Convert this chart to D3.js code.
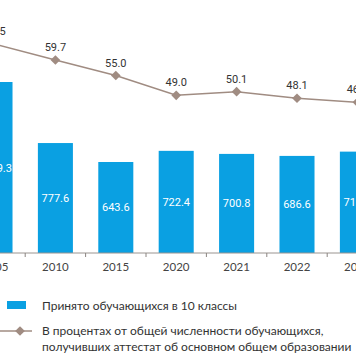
<!DOCTYPE html>
<html><head><meta charset="utf-8">
<script src="https://cdn.jsdelivr.net/npm/d3@7"></script>
<style>html,body{margin:0;padding:0;background:#fff;}svg{display:block;}</style>
</head><body>
<script>
const years = ["2005","2010","2015","2020","2021","2022","2023"];
const admitted = [1209.3, 777.6, 643.6, 722.4, 700.8, 686.6, 716.9];
const percent = [64.5, 59.7, 55.0, 49.0, 50.1, 48.1, 46.9];
const legendLabels = ["Принято обучающихся в 10 классы",
  "В процентах от общей численности обучающихся,",
  "получивших аттестат об основном общем образовании"];

const W = 356, H = 364;
const svg = d3.select("body").append("svg").attr("width", W).attr("height", H);
const font = "Lato, 'Open Sans', sans-serif";
const blue = "#0aa0e2", lineCol = "#a08c82";

const x = d3.scaleBand().domain(years).range([-35.2, 387.6]).paddingInner(0.42).paddingOuter(0.21);
const yBar = d3.scaleLinear().domain([0, 1300]).range([253, 253 - 1300 * 0.1414]);
const yLine = d3.scaleLinear().domain([40, 70]).range([125, 26]);

// bars
svg.selectAll("rect.bar").data(years).join("rect").attr("class", "bar")
  .attr("x", d => x(d)).attr("width", x.bandwidth())
  .attr("y", (d, i) => yBar(admitted[i])).attr("height", (d, i) => yBar(0) - yBar(admitted[i]))
  .attr("fill", blue);
svg.selectAll("text.bl").data(years).join("text").attr("class", "bl")
  .attr("x", d => x(d) + x.bandwidth() / 2)
  .attr("y", (d, i) => (yBar(admitted[i]) + yBar(0)) / 2 + 4)
  .attr("text-anchor", "middle").attr("fill", "#fff").attr("font-family", "Roboto, sans-serif")
  .attr("font-size", 11).text((d, i) => admitted[i].toFixed(1));

// axis
const axis = svg.append("g").attr("transform", "translate(0,253)");
axis.append("line").attr("x1", 0).attr("x2", W).attr("stroke", "#9a9490").attr("stroke-width", 1);
axis.selectAll("line.t").data(years.slice(1)).join("line").attr("class", "t")
  .attr("x1", d => x(d) - x.step() * 0.42 / 2).attr("x2", d => x(d) - x.step() * 0.42 / 2)
  .attr("y1", 0).attr("y2", 4).attr("stroke", "#8a8480");
axis.selectAll("text").data(years).join("text")
  .attr("x", d => x(d) + x.bandwidth() / 2).attr("y", 18)
  .attr("text-anchor", "middle").attr("fill", "#444").attr("font-family", font)
  .attr("font-size", 11.5).text(d => d);

// line
const cx = d => x(d) + x.bandwidth() / 2;
const line = d3.line().x((d, i) => cx(years[i])).y(d => yLine(d));
svg.append("path").datum(percent).attr("d", line).attr("fill", "none")
  .attr("stroke", lineCol).attr("stroke-width", 1.5);
const diamond = d3.symbol().type(d3.symbolDiamond2 || d3.symbolDiamond).size(60);
svg.selectAll("path.pt").data(percent).join("path").attr("class", "pt")
  .attr("d", diamond).attr("transform", (d, i) => `translate(${cx(years[i])},${yLine(d)}) rotate(0)`)
  .attr("fill", lineCol);
svg.selectAll("text.pl").data(percent).join("text").attr("class", "pl")
  .attr("x", (d, i) => cx(years[i])).attr("y", d => yLine(d) - 9)
  .attr("text-anchor", "middle").attr("fill", "#333").attr("font-family", "Roboto, sans-serif")
  .attr("font-size", 11).text(d => d.toFixed(1));

// legend
svg.append("rect").attr("x", 7).attr("y", 301).attr("width", 19).attr("height", 8).attr("fill", blue);
svg.append("text").attr("x", 42).attr("y", 310).attr("fill", "#333").attr("font-family", font)
  .attr("font-size", 12).text(legendLabels[0]);
svg.append("line").attr("x1", 0).attr("x2", 32).attr("y1", 331).attr("y2", 331)
  .attr("stroke", lineCol).attr("stroke-width", 1.5);
svg.append("path").attr("d", diamond).attr("transform", "translate(20,331)").attr("fill", lineCol);
svg.append("text").attr("x", 42).attr("y", 335).attr("fill", "#333").attr("font-family", font)
  .attr("font-size", 12).text(legendLabels[1]);
svg.append("text").attr("x", 42).attr("y", 351).attr("fill", "#333").attr("font-family", font)
  .attr("font-size", 12).text(legendLabels[2]);
</script>
</body></html>
